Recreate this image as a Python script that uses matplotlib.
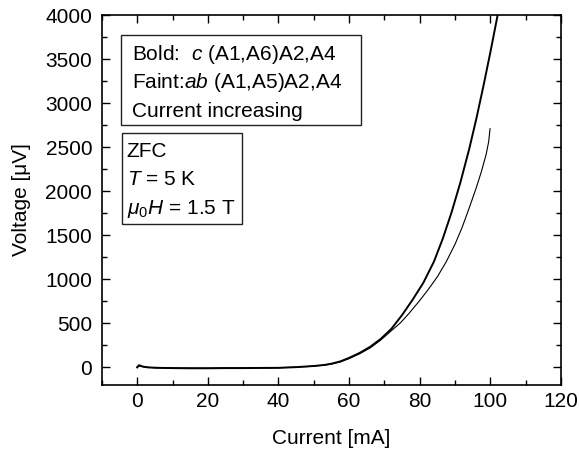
import matplotlib
matplotlib.use("Agg")
import matplotlib.pyplot as plt
from matplotlib.patches import Rectangle
from matplotlib.ticker import MultipleLocator

plt.rcParams["font.family"] = ["Liberation Sans", "DejaVu Sans"]
plt.rcParams["mathtext.fontset"] = "custom"
plt.rcParams["mathtext.rm"] = "Liberation Sans"
plt.rcParams["mathtext.it"] = "Liberation Sans:italic"

FS = 15

# V(I) curves, current increasing
bold_current = [0, 0.5, 1.5, 3, 6, 10, 15, 20, 25, 30, 35, 40, 45, 50,
                53, 55, 57.5, 60, 63, 66, 69, 72, 75, 78, 81, 84, 86.5,
                89, 91.5, 94, 96, 98, 100, 102, 103]
bold_voltage = [0, 25, 10, 0, -5, -8, -10, -10, -8, -8, -6, -5, 3, 16,
                28, 42, 68, 108, 165, 235, 325, 440, 595, 770, 960, 1200, 1460,
                1760, 2100, 2480, 2820, 3190, 3580, 3990, 4200]

faint_current = [0, 0.7, 2, 5, 10, 15, 20, 25, 30, 35, 40, 45, 50,
                 53, 55, 57.5, 60, 63, 66, 69, 72, 74.5, 77, 80, 82.5, 85, 87.5,
                 90, 92, 94, 96, 97.5, 98.8, 99.5, 99.9]
faint_voltage = [10, 15, 5, -5, -6, -8, -8, -6, -6, -5, -4, 3, 14,
                 26, 38, 62, 100, 155, 222, 312, 418, 505, 615, 760, 890, 1030, 1200,
                 1400, 1590, 1810, 2040, 2230, 2420, 2560, 2710]

fig = plt.figure(figsize=(5.79, 4.5), dpi=100)
ax = fig.add_axes([0.176, 0.1444, 0.793, 0.8222])

ax.plot(bold_current, bold_voltage, color="black", lw=1.4)
ax.plot(faint_current, faint_voltage, color="black", lw=0.8)

ax.set_xlim(-10, 120)
ax.set_ylim(-200, 4000)
ax.xaxis.set_major_locator(MultipleLocator(20))
ax.xaxis.set_minor_locator(MultipleLocator(10))
ax.yaxis.set_major_locator(MultipleLocator(500))
ax.yaxis.set_minor_locator(MultipleLocator(250))
ax.tick_params(which="both", direction="in", top=True, right=True,
               labelsize=FS, width=1)
ax.tick_params(which="major", length=6)
ax.tick_params(which="minor", length=3.5)
ax.tick_params(axis="y", pad=7)
ax.tick_params(axis="x", pad=5)
for sp in ax.spines.values():
    sp.set_linewidth(1.2)

ax.set_xlabel("Current [mA]", fontsize=FS, labelpad=13)
ax.set_ylabel("Voltage [\u03bcV]", fontsize=FS, labelpad=10)

# legend-style boxes
ax.add_patch(Rectangle((0.0407, 0.7027), 0.5229, 0.2432, transform=ax.transAxes,
                       fill=False, lw=1, ec="#222222"))
ax.add_patch(Rectangle((0.0436, 0.435), 0.2608, 0.245, transform=ax.transAxes,
                       fill=False, lw=1, ec="#222222"))

box1 = [r"Bold:  $c$ (A1,A6)A2,A4", r"Faint:$ab$ (A1,A5)A2,A4", "Current increasing"]
for i, s in enumerate(box1):
    ax.text(0.0645, 0.878 - i * 0.0765, s, transform=ax.transAxes,
            fontsize=FS, va="baseline", ha="left")

box2 = ["ZFC", r"$T$ = 5 K", r"$\mu_{\mathit{0}}H$ = 1.5 T"]
for i, s in enumerate(box2):
    ax.text(0.0538, 0.617 - i * 0.077, s, transform=ax.transAxes,
            fontsize=FS, va="baseline", ha="left")

fig.savefig("out.png", dpi=100)
